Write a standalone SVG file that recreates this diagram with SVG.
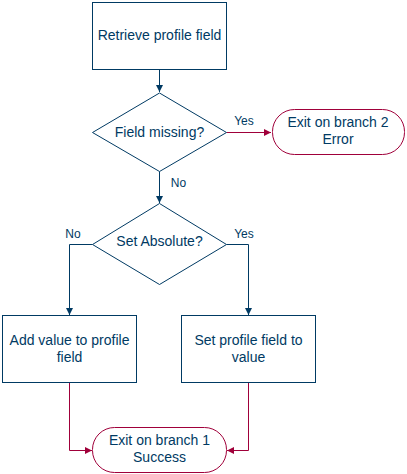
<svg xmlns="http://www.w3.org/2000/svg" width="407" height="474" viewBox="0 0 407 474">
<style>
.b{fill:#fff;stroke:#003a63;stroke-width:1}
.r{fill:#fff;stroke:#a0003a;stroke-width:1}
.t{font-family:"Liberation Sans",Arial,sans-serif;font-size:14px;fill:#003a63;text-anchor:middle}
.l{font-family:"Liberation Sans",Arial,sans-serif;font-size:12px;fill:#003a63;text-anchor:middle}
.cb{fill:none;stroke:#003a63;stroke-width:1}
.cr{fill:none;stroke:#a0003a;stroke-width:1}
</style>
<defs>
<marker id="ab" markerWidth="8" markerHeight="8" refX="7" refY="4" orient="auto" markerUnits="userSpaceOnUse"><path d="M0,0.5 L7,4 L0,7.5 Z" fill="#003a63"/></marker>
<marker id="ar" markerWidth="8" markerHeight="8" refX="7" refY="4" orient="auto" markerUnits="userSpaceOnUse"><path d="M0,0.5 L7,4 L0,7.5 Z" fill="#a0003a"/></marker>
</defs>
<rect width="407" height="474" fill="#fff"/>
<g id="connectors">
<path class="cb" d="M159.5,69.5 V92" marker-end="url(#ab)"/>
<path class="cr" d="M226.5,132.5 H271" marker-end="url(#ar)"/>
<text class="l" x="244" y="125">Yes</text>
<path class="cb" d="M159.5,171.5 V203" marker-end="url(#ab)"/>
<text class="l" x="178.5" y="187">No</text>
<path class="cb" d="M92.5,244.5 H69.5 V315" marker-end="url(#ab)"/>
<text class="l" x="73" y="238">No</text>
<path class="cb" d="M226.5,244.5 H248.5 V315" marker-end="url(#ab)"/>
<text class="l" x="244" y="238">Yes</text>
<path class="cr" d="M69.5,382.5 V450.5 H92" marker-end="url(#ar)"/>
<path class="cr" d="M248.5,382.5 V450.5 H227" marker-end="url(#ar)"/>
</g>
<g id="retrieve">
<rect class="b" x="92.5" y="2.5" width="134" height="67"/>
<text class="t" x="159.5" y="40">Retrieve profile field</text>
</g>
<g id="missing">
<polygon class="b" points="159.5,93 226.5,132.5 159.5,171.5 92.5,132.5"/>
<text class="t" x="159.5" y="137">Field missing?</text>
</g>
<g id="exit2">
<rect class="r" x="272.5" y="109.5" width="132" height="45" rx="22" ry="22"/>
<text class="t" x="338" y="127">Exit on branch 2</text>
<text class="t" x="338" y="144">Error</text>
</g>
<g id="absolute">
<polygon class="b" points="159.5,203.5 226.5,244.5 159.5,284.5 92.5,244.5"/>
<text class="t" x="159.5" y="246">Set Absolute?</text>
</g>
<g id="add">
<rect class="b" x="2.5" y="315.5" width="134" height="67"/>
<text class="t" x="69.5" y="345">Add value to profile</text>
<text class="t" x="69.5" y="362">field</text>
</g>
<g id="set">
<rect class="b" x="181.5" y="315.5" width="134" height="67"/>
<text class="t" x="248.5" y="345">Set profile field to</text>
<text class="t" x="248.5" y="362">value</text>
</g>
<g id="exit1">
<rect class="r" x="92.5" y="427.5" width="134" height="45" rx="22" ry="22"/>
<text class="t" x="159.5" y="445">Exit on branch 1</text>
<text class="t" x="159.5" y="462">Success</text>
</g>
</svg>
